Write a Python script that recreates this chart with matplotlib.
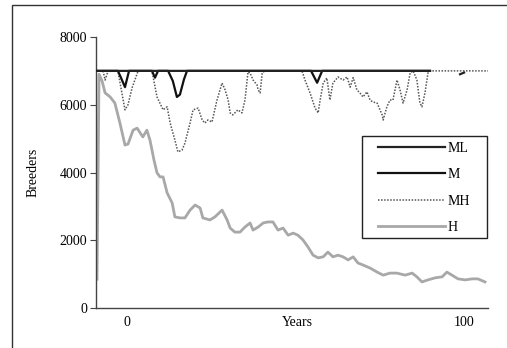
import matplotlib
matplotlib.use("Agg")
import matplotlib.pyplot as plt
from matplotlib.patches import Rectangle

plt.rcParams['font.family'] = ['Liberation Serif', 'DejaVu Serif']

# ---- data ----
h_years = [-8.9, -8.3, -7.4, -6.5, -5.0, -3.6, -2.1, -0.6, 0.3, 1.8, 3.0, 3.9, 4.7, 5.9, 6.8,
           8.0, 8.9, 9.8, 10.7, 11.9, 13.4, 14.2, 15.7, 17.2, 18.7, 20.2, 21.7, 22.5, 24.6,
           26.1, 28.2, 29.7, 30.6, 32.0, 33.5, 35.0, 36.5, 37.4, 38.9, 40.4, 41.8, 43.3,
           44.8, 46.3, 47.8, 49.3, 50.7, 52.2, 53.7, 55.2, 56.7, 58.2, 59.6, 61.1, 62.6,
           64.1, 65.6, 67.1, 68.5, 70.0, 72.1, 74.2, 76.0, 78.0, 80.1, 82.5, 84.6, 86.0,
           87.5, 89.3, 91.4, 93.5, 94.9, 96.4, 98.2, 100.3, 102.4, 104.1, 106.2]
h_vals = [850, 6900, 6700, 6350, 6230, 6050, 5460, 4810, 4840, 5250, 5310, 5170, 5050, 5250, 4960,
          4370, 3990, 3870, 3870, 3400, 3100, 2690, 2660, 2660, 2890, 3040, 2950, 2660, 2600,
          2690, 2890, 2600, 2360, 2240, 2240, 2390, 2510, 2300, 2390, 2510, 2540, 2540,
          2300, 2360, 2150, 2210, 2150, 2010, 1800, 1560, 1480, 1510, 1650, 1510, 1560,
          1510, 1420, 1510, 1330, 1270, 1180, 1060, 970, 1030, 1030, 970, 1030, 920,
          770, 830, 890, 920, 1060, 970, 860, 830, 860, 860, 770]

mh_years = [-8.0, -7.1, -6.5, -5.6, -2.7, -1.8, -0.6, 0.3, 1.5, 3.3, 6.8, 7.4, 8.9, 10.7, 11.9,
            12.8, 14.2, 15.1, 16.3, 17.2, 18.7, 19.6, 21.1, 22.3, 23.1, 24.0, 25.2, 26.7,
            28.2, 29.1, 30.0, 30.6, 31.4, 32.9, 34.1, 35.0, 35.9, 36.5, 37.4, 38.6, 38.9,
            39.5, 40.1, 40.9, 51.9, 52.8, 54.3, 55.8, 56.7, 57.3, 58.2, 59.3, 60.2, 61.1,
            62.6, 64.1, 65.3, 66.2, 67.1, 68.2, 69.1, 70.0, 71.2, 72.1, 73.0, 74.2, 75.7,
            76.0, 77.1, 78.0, 78.9, 80.1, 81.0, 81.9, 83.1, 84.0, 84.9, 86.0, 86.9, 87.5,
            88.4, 89.3, 89.9, 107.1]
mh_vals = [7000, 7000, 6730, 7000, 7000, 6500, 5850, 6000, 6500, 7000, 7000, 7000, 6230, 5850, 5940,
           5460, 4960, 4610, 4660, 4870, 5460, 5850, 5900, 5550, 5460, 5550, 5490, 6140,
           6640, 6440, 6140, 5760, 5700, 5850, 5760, 6140, 6970, 6940, 6730, 6580, 6440,
           6350, 6940, 7000, 7000, 6730, 6350, 5900, 5760, 6140, 6640, 6790, 6140, 6640,
           6820, 6730, 6820, 6520, 6800, 6440, 6350, 6230, 6380, 6140, 6080, 6050, 5700,
           5550, 5940, 6140, 6140, 6730, 6440, 6050, 6440, 6940, 7000, 6730, 6050, 5940,
           6350, 6940, 7000, 7000]

m_years = [-8.9, -2.7, -1.8, -0.6, 0.6, 7.4, 8.3, 9.2, 12.2, 13.6, 14.8, 15.7, 16.9, 17.8,
           54.6, 56.4, 57.9, 89.9]
m_vals = [7000, 7000, 6800, 6520, 7000, 7000, 6800, 7000, 7000, 6700, 6230, 6300, 6750, 7000,
          7000, 6650, 7000, 7000]

ml_years = [-8.9, 89.9, 97.0, 98.8, 100.0]
ml_vals = [7000, 7000, None, 6900, 6950]

y_ticks = [0, 2000, 4000, 6000, 8000]
x_ticks = [0, 100]
legend_order = ['ML', 'M', 'MH', 'H']

FS = 10

# ---- figure ----
fig = plt.figure(figsize=(5.07, 3.48), dpi=100)
ax = fig.add_axes([96/507, 1-308/348, 392/507, 271/348])

# outer frame (cropped on right and bottom)
fig.patches.append(Rectangle((12/507, -0.2), 1.2, 1.2 - 5/348, transform=fig.transFigure,
                             fill=False, edgecolor='#333333', linewidth=1.0))

ax.plot(h_years, h_vals, color='#a8a8a8', linewidth=2.0, label='H', zorder=2)
ax.plot(mh_years, mh_vals, color='#555555', linewidth=1.1, linestyle=(0, (1, 1)), label='MH', zorder=3)
ax.plot(m_years, m_vals, color='#111111', linewidth=1.6, label='M', zorder=4)
ml_y = [float('nan') if v is None else v for v in ml_vals]
ax.plot(ml_years, ml_y, color='#222222', linewidth=1.6, label='ML', zorder=4)

ax.set_xlim(-9.2, 107.1)
ax.set_ylim(0, 8000)
ax.set_yticks(y_ticks)
ax.set_yticklabels([str(v) for v in y_ticks])
ax.set_xticks(x_ticks)
ax.set_xticklabels([str(v) for v in x_ticks])
ax.tick_params(axis='y', direction='out', length=4.3, width=0.8, color='#444444',
               labelsize=FS, pad=2)
ax.tick_params(axis='x', length=0, labelsize=FS, pad=6)
for s in ['top', 'right']:
    ax.spines[s].set_visible(False)
for s in ['left', 'bottom']:
    ax.spines[s].set_color('#444444')
    ax.spines[s].set_linewidth(1.0)

ax.set_ylabel('Breeders', fontsize=FS)
ax.yaxis.set_label_coords(-0.143, 0.5)
ax.text(0.513, -0.052, 'Years', transform=ax.transAxes, ha='center', va='center', fontsize=FS)

# legend frame
ax.add_patch(Rectangle((0.679, 0.258), 0.318, 0.377, transform=ax.transAxes, fill=False,
                       edgecolor='#222222', linewidth=1.0, clip_on=False, zorder=5))
handles, labels = ax.get_legend_handles_labels()
hmap = dict(zip(labels, handles))
leg = ax.legend([hmap[k] for k in legend_order], legend_order, loc='upper left',
                bbox_to_anchor=(0.719, 0.612), fontsize=FS, frameon=False,
                handlelength=4.82, handletextpad=0.2, labelspacing=0.95,
                borderpad=0.0, borderaxespad=0.0)

fig.savefig('out.png', dpi=100)
